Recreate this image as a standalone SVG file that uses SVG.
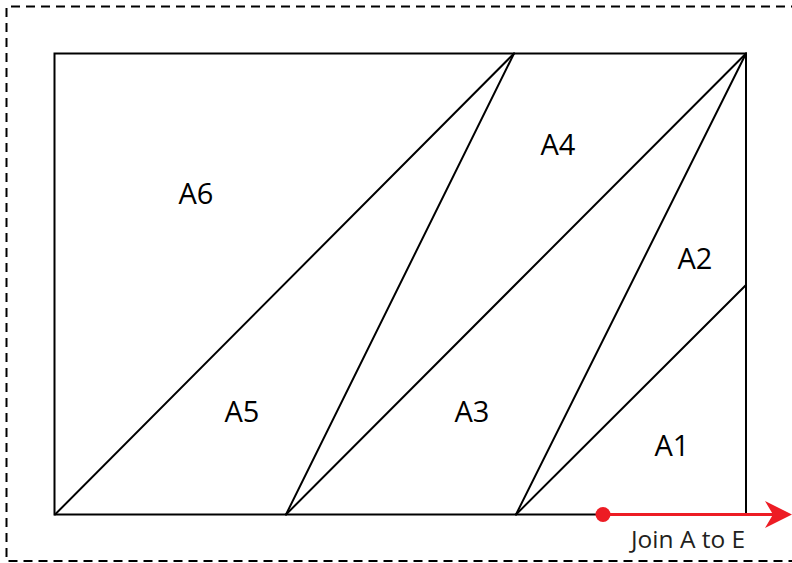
<svg xmlns="http://www.w3.org/2000/svg" width="792" height="563" viewBox="0 0 792 563">
<style>
.lbl{font-family:"Open Sans","Liberation Sans",sans-serif;font-size:29px;fill:#000;text-anchor:middle}
.ln{stroke:#000;stroke-width:2;fill:none;stroke-linecap:round}
.note{font-family:"Open Sans","Liberation Sans",sans-serif;font-size:24.5px;fill:#231f20}
</style>
<rect width="792" height="563" fill="#fff"/>
<path d="M800,6.5 H6.5 V561 H800" fill="none" stroke="#000" stroke-width="2" stroke-dasharray="9 6"/>
<g id="shape">
<rect x="54.5" y="53.5" width="691.5" height="461" fill="none" stroke="#000" stroke-width="2"/>
</g>
<g id="connectors">
<line class="ln" x1="55" y1="514.5" x2="514" y2="53.5"/>
<line class="ln" x1="286" y1="514.5" x2="514" y2="53.5"/>
<line class="ln" x1="286" y1="514.5" x2="746" y2="53.5"/>
<line class="ln" x1="516" y1="514.5" x2="746" y2="53.5"/>
<line class="ln" x1="516" y1="514.5" x2="746" y2="285"/>
</g>
<g id="labels">
<text class="lbl" x="196" y="204">A6</text>
<text class="lbl" x="558" y="155">A4</text>
<text class="lbl" x="695" y="269">A2</text>
<text class="lbl" x="242" y="422">A5</text>
<text class="lbl" x="472" y="422">A3</text>
<text class="lbl" x="672" y="456">A1</text>
</g>
<g id="arrow">
<line x1="603" y1="514.5" x2="776" y2="514.5" stroke="#ed1c24" stroke-width="3"/>
<circle cx="603" cy="514.5" r="7.5" fill="#ed1c24"/>
<path d="M792,514.5 L765,501 L773,514.5 L765,528 Z" fill="#ed1c24"/>
<text class="note" x="631" y="548">Join A to E</text>
</g>
</svg>
